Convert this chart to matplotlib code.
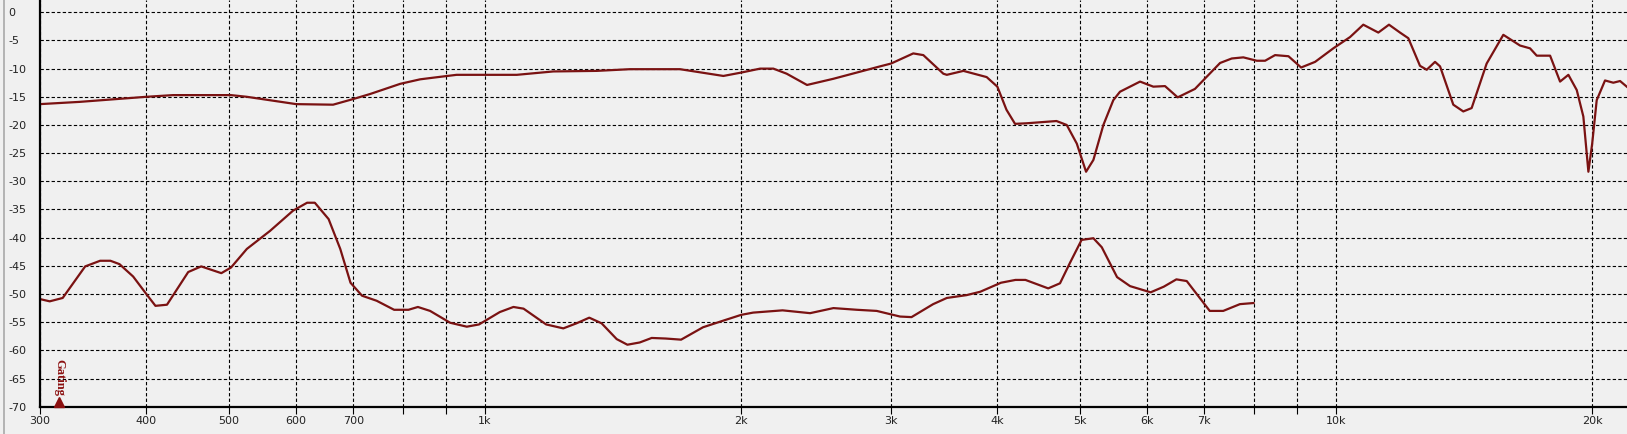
import matplotlib
matplotlib.use("Agg")
import matplotlib.pyplot as plt
from matplotlib.lines import Line2D

# ---- data ----
top_freq = [300, 334, 400, 430, 503, 525, 600, 663, 700, 733, 795, 839, 870, 926,
            1090, 1203, 1353, 1480, 1695, 1906, 2000, 2105, 2182, 2262, 2390, 2567,
            2912, 3000, 3186, 3274, 3456, 3489, 3649, 3886, 4000, 4100, 4196, 4329,
            4694, 4826, 4959, 5085, 5187, 5329, 5474, 5574, 5885, 6100, 6296, 6516,
            6827, 7307, 7542, 7782, 8071, 8254, 8480, 8793, 9099, 9450, 9927, 10387,
            10766, 11213, 11541, 11891, 12161, 12551, 12782, 13072, 13251, 13735,
            14111, 14434, 15032, 15725, 16452, 16904, 17213, 17847, 18335, 18752,
            19181, 19527, 19795, 20000, 20246, 20706, 21176, 21567, 21961]
top_db = [-16.3, -15.9, -15.0, -14.7, -14.7, -15.0, -16.3, -16.4, -15.4, -14.5, -12.7,
          -11.9, -11.6, -11.1, -11.1, -10.5, -10.4, -10.1, -10.1, -11.3, -10.7, -10.0,
          -10.0, -10.9, -12.9, -11.8, -9.6, -9.1, -7.3, -7.6, -10.9, -11.1, -10.4,
          -11.5, -13.2, -17.3, -19.8, -19.7, -19.3, -20.0, -23.3, -28.3, -26.2, -20.0,
          -15.6, -14.1, -12.3, -13.2, -13.1, -15.1, -13.6, -9.0, -8.2, -8.0, -8.6,
          -8.6, -7.6, -7.8, -9.8, -8.8, -6.4, -4.4, -2.2, -3.6, -2.2, -3.6, -4.6,
          -9.5, -10.2, -8.8, -9.6, -16.4, -17.6, -17.0, -9.1, -4.0, -5.9, -6.4, -7.7,
          -7.7, -12.3, -11.1, -13.8, -18.5, -28.3, -23.3, -15.6, -12.1, -12.5, -12.2,
          -13.2]

bot_freq = [300, 308, 319, 339, 353, 363, 372, 386, 400, 410, 423, 448, 464, 490, 503,
            525, 559, 595, 618, 631, 655, 676, 695, 717, 746, 782, 813, 834, 862, 910,
            952, 984, 1041, 1080, 1110, 1180, 1236, 1281, 1326, 1371, 1428, 1470, 1520,
            1570, 1630, 1700, 1804, 1890, 2000, 2066, 2237, 2410, 2567, 2736, 2886,
            3074, 3171, 3362, 3489, 3680, 3819, 4039, 4201, 4316, 4590, 4739, 4871,
            5024, 5187, 5306, 5530, 5728, 6056, 6275, 6493, 6677, 7106, 7370, 7710,
            8000]
bot_db = [-50.9, -51.3, -50.7, -45.1, -44.1, -44.1, -44.7, -46.9, -50.0, -52.1, -51.9,
          -46.1, -45.1, -46.3, -45.3, -42.0, -38.8, -35.2, -33.8, -33.8, -36.7, -42.0,
          -48.0, -50.3, -51.2, -52.8, -52.8, -52.3, -53.0, -55.1, -55.8, -55.4, -53.2,
          -52.3, -52.6, -55.4, -56.1, -55.2, -54.2, -55.2, -58.0, -59.0, -58.6, -57.8,
          -57.9, -58.1, -55.9, -54.9, -53.7, -53.3, -52.9, -53.4, -52.5, -52.8, -53.0,
          -54.0, -54.1, -51.8, -50.7, -50.2, -49.6, -48.0, -47.5, -47.5, -49.0, -48.1,
          -44.4, -40.4, -40.1, -41.7, -47.0, -48.6, -49.7, -48.7, -47.4, -47.7, -53.0,
          -53.0, -51.8, -51.6]

x_ticks = [300, 400, 500, 600, 700, 800, 900, 1000, 2000, 3000, 4000, 5000, 6000,
           7000, 8000, 9000, 10000, 20000]
x_labels = ["300", "400", "500", "600", "700", "", "", "1k", "2k", "3k", "4k", "5k",
            "6k", "7k", "", "", "10k", "20k"]
y_ticks = list(range(0, -75, -5))
y_labels = [str(v) for v in y_ticks]

gating_freq = 316
gating_label = "Gating"

# ---- style ----
bg = "#F0F0F0"
curve = "#7A1212"
W, H = 1627, 434
fig = plt.figure(figsize=(W / 100, H / 100), dpi=100, facecolor=bg)
ax = fig.add_axes([40 / W, 27.3 / H, 1 - 40 / W, 406.7 / H])
ax.set_facecolor(bg)
ax.set_xscale("log")
ax.set_xlim(300, 21975)
ax.set_ylim(-70, 2.18)

ax.plot(top_freq, top_db, color=curve, lw=1.6, solid_joinstyle="round", zorder=3)
ax.plot(bot_freq, bot_db, color=curve, lw=1.6, solid_joinstyle="round", zorder=3)

ax.xaxis.set_minor_locator(matplotlib.ticker.NullLocator())
ax.set_xticks(x_ticks)
ax.set_xticklabels(x_labels)
ax.set_yticks(y_ticks)
ax.set_yticklabels(y_labels)

fam = ["Liberation Sans Narrow", "DejaVu Sans"]
for t in ax.get_xticklabels():
    t.set_fontfamily(fam)
    t.set_fontsize(8)
    t.set_color("#222222")
for t in ax.get_yticklabels():
    t.set_fontfamily(fam)
    t.set_fontsize(8)
    t.set_color("#222222")
    t.set_horizontalalignment("left")

ax.tick_params(axis="x", direction="out", length=5, width=0.8, color="black", pad=2)
ax.tick_params(axis="y", length=0, pad=23)

ax.grid(True, which="major", color="black", linestyle=(0, (3, 2)), linewidth=0.8)
ax.set_axisbelow(True)

for s in ("top", "right"):
    ax.spines[s].set_visible(False)
for s in ("left", "bottom"):
    ax.spines[s].set_linewidth(1.6)
    ax.spines[s].set_color("black")
    ax.spines[s].set_zorder(4)

# gating marker
ax.plot([gating_freq], [-69.2], marker="^", markersize=7, color="#8B1010",
        clip_on=False, zorder=5, linestyle="none")
ax.text(gating_freq, -61.6, gating_label, rotation=-90, ha="center", va="top",
        color="#8B1010", fontsize=9, fontweight="bold",
        family=["Liberation Serif", "DejaVu Serif"], zorder=5)

# left window border line
fig.add_artist(Line2D([3.5 / W, 3.5 / W], [0, 1], color="#A8A8A8", lw=1.2,
                      transform=fig.transFigure))

fig.savefig("out.png", dpi=100, facecolor=bg)
